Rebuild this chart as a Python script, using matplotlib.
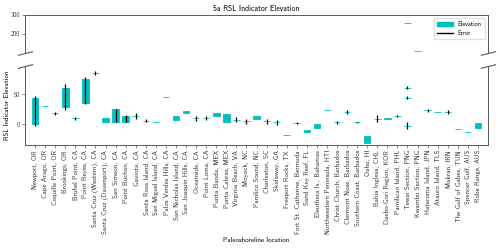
"""RSL indicator elevation by paleoshoreline location (broken y axis)"""
import matplotlib

matplotlib.use("Agg")
import matplotlib.pyplot as plt
import numpy as np
from matplotlib.lines import Line2D
from matplotlib.patches import Patch

plt.rcParams["font.family"] = ["cmss10", "DejaVu Sans"]
plt.rcParams["axes.unicode_minus"] = False

locations = [
    "Newport, OR", "Cape Arago, OR", "Coquille Point, OR", "Brookings, OR",
    "Bruhel Point, CA", "Point Reyes, CA", "Santa Cruz (Western), CA",
    "Santa Cruz (Davenport), CA", "San Simeon, CA", "Point Buchon, CA",
    "Gaviota, CA", "Santa Rosa Island, CA", "San Miguel Island, CA",
    "Palos Verdes Hills, CA", "San Nicholas Island, CA", "San Joaquin Hills, CA",
    "Oceanside, CA", "Point Loma, CA", "Punta Banda, MEX", "Punta Cabras, MEX",
    "Virginia Beach, VA", "Moyock, NC", "Pamlico Sound, NC", "Charleston, SC",
    "Skidaway, GA", "Freeport Rocks, TX", "Fort St. Catherine, Bermuda",
    "Sand Key Reef, FL", "Eleuthera Is., Bahamas", "Northwestern Peninsula, HTI",
    "Christ Church, Barbados", "Clermont Nose, Barbados", "Southern Coast, Barbados",
    "Oahu, HI", "Bahia Inglesa, CHL", "Daebo-Gori Region, KOR",
    "Pamilican Island, PHL", "Tewai Section, PNG", "Kwambu Section, PNG",
    "Hateruma Island, JPN", "Atauro Island, TLS", "Makran, IRN",
    "The Gulf of Gabes, TUN", "Spencer Gulf, AUS", "Robe Range, AUS",
]

# one entry per RSL indicator: (site, lower elevation, upper elevation, error)
entry_site = locations + ["Tewai Section, PNG"] * 3
entry_low = [
    0, 30.5, 17.7, 29, 10, 36, 85.5, 4, 4, 4,
    12.7, 6, 3.3, 45.5, 7.2, 18.3, 9.5, 9.8, 14.3, 3.5,
    7.2, 4.5, 8.3, 4.5, 2.7, -18.5, 1.7, -12.8, -6, 23,
    2.7, 20, 2.7, -30.7, 9.3, 7.7, 13.3, -2.5, 110, 22.7,
    20, 20, -8.3, -14, -6.7,
    44.3, 61, 260,
]
entry_high = [
    44, 30.5, 17.7, 61, 10, 76, 85.5, 10, 24.5, 14,
    12.7, 6, 3.3, 45.5, 13.5, 21.7, 9.5, 9.8, 18.3, 17,
    7.2, 4.5, 14.3, 4.5, 2.7, -18.5, 1.7, -9.5, 0.5, 23,
    2.7, 20, 2.7, -19.5, 9.3, 11, 13.3, -2.5, 110, 22.7,
    20, 20, -8.3, -14, 1.7,
    44.3, 61, 260,
]
entry_err = [
    3, 0, 3, 5.5, 2.5, 2.5, 3, 0, 1, 1,
    5, 2.5, 0, 0, 0, 0, 3.5, 3.5, 0, 0,
    4, 3.5, 0, 3.5, 3.5, 0, 2, 0, 0, 0,
    2, 3, 1, 0, 5.5, 0, 2, 5.5, 0, 2,
    0, 3, 0, 0, 0,
    3, 3, 0,
]

x = np.array([locations.index(s) for s in entry_site])
low = np.array(entry_low, dtype=float)
high = np.array(entry_high, dtype=float)
err = np.array(entry_err, dtype=float)

fig = plt.figure(figsize=(5.0, 2.48), dpi=100)
ax_top = fig.add_axes([0.05, 0.786, 0.926, 0.154])
ax_bot = fig.add_axes([0.05, 0.415, 0.926, 0.319], sharex=ax_top)

has_err = err > 0
for ax in (ax_top, ax_bot):
    ax.bar(x, high - low, bottom=low, width=0.65, color="c", edgecolor="c", linewidth=0.6)
    ax.vlines(x[has_err], low[has_err] - err[has_err], high[has_err] + err[has_err],
              color="k", linewidth=0.9)
    for s in ax.spines.values():
        s.set_color("0.35")
        s.set_linewidth(0.7)
    ax.tick_params(labelsize=4.5, length=2, width=0.5, pad=1.5, colors="0.35",
                   labelcolor="0.2")

ax_top.set_ylim(100, 300)
ax_bot.set_ylim(-35, 97)
ax_bot.set_xlim(-1, 45)
ax_top.set_yticks([200, 300])
ax_bot.set_yticks([0, 50])

ax_top.spines["bottom"].set_visible(False)
ax_top.tick_params(bottom=False, labelbottom=False)
ax_bot.spines["top"].set_visible(False)

ax_bot.set_xticks(range(len(locations)))
ax_bot.set_xticklabels(locations, rotation=90, fontsize=5)

# break marks
d = 0.25
kw = dict(marker=[(-1, -d), (1, d)], markersize=11, linestyle="none",
          color="0.35", mec="0.35", mew=0.8, clip_on=False)
ax_top.plot([0, 1], [0, 0], transform=ax_top.transAxes, **kw)
ax_bot.plot([0, 1], [1, 1], transform=ax_bot.transAxes, **kw)

ax_top.set_title("5a RSL Indicator Elevation", fontsize=5.5, pad=3)
ax_bot.set_ylabel("RSL Indicator Elevation", fontsize=5, labelpad=3)
ax_bot.set_xlabel("Paleoshoreline location", fontsize=5, labelpad=2)

handles = [Patch(facecolor="c", edgecolor="c", label="Elevation"),
           Line2D([], [], color="k", linewidth=1, label="Error")]
ax_top.legend(handles=handles, loc="upper right", fontsize=4.5, frameon=True,
              edgecolor="0.85", fancybox=False, handlelength=2.5, borderpad=0.5)

fig.savefig("out.png", dpi=100)
